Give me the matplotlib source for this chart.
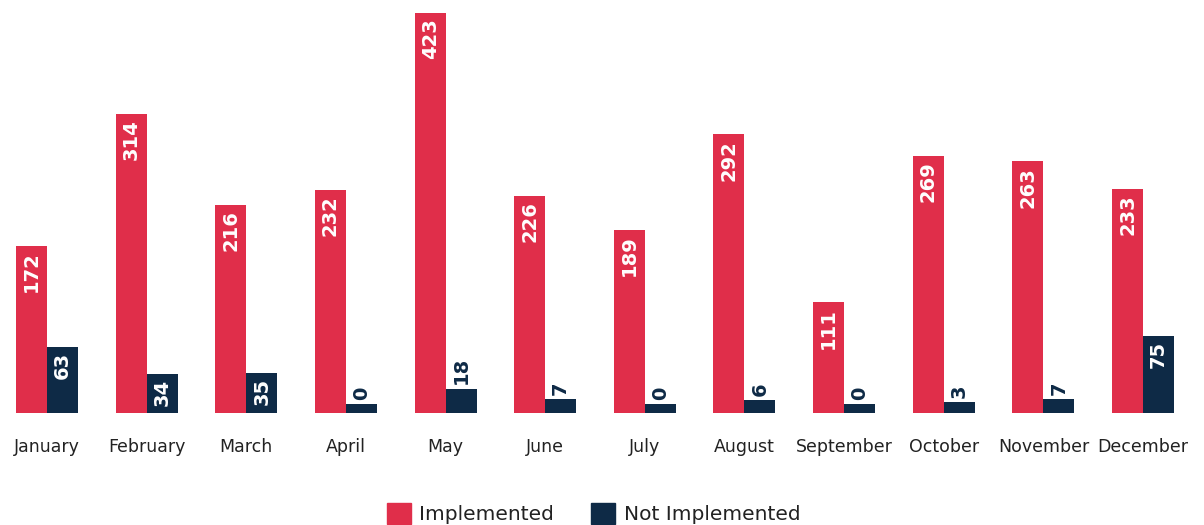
import numpy as np
import matplotlib.pyplot as plt
from matplotlib.patches import Patch

months = ["January", "February", "March", "April", "May", "June", "July",
          "August", "September", "October", "November", "December"]
implemented = [172, 314, 216, 232, 423, 226, 189, 292, 111, 269, 263, 233]
not_implemented = [63, 34, 35, 0, 18, 7, 0, 6, 0, 3, 7, 75]

RED = "#E02E4A"
NAVY = "#0E2A46"
PAD = 8          # extra drawn length on every bar, like the source chart
MIN_LEN = 9      # smallest drawn bar so zero values stay visible
INSIDE_MIN = 25  # below this the value label goes above the bar


def label_bars(ax, xs, values, heights):
    for x, v, h in zip(xs, values, heights):
        if v > INSIDE_MIN:
            ax.annotate(str(v), (x, h), xytext=(0, -4), textcoords="offset points",
                        rotation=90, ha="center", va="top", color="white",
                        fontsize=14, fontweight="bold")
        else:
            ax.annotate(str(v), (x, h), xytext=(0, 3), textcoords="offset points",
                        rotation=90, ha="center", va="bottom", color=NAVY,
                        fontsize=14, fontweight="bold")


fig = plt.figure(figsize=(12.04, 5.25), dpi=100)
ax = fig.add_axes([0, 0.214, 1, 0.786])

x = np.arange(len(months))
w = 0.311
h_impl = np.maximum(np.array(implemented) + PAD, MIN_LEN)
h_not = np.maximum(np.array(not_implemented) + PAD, MIN_LEN)
ax.bar(x - w / 2, h_impl, width=w, color=RED)
ax.bar(x + w / 2, h_not, width=w, color=NAVY)
label_bars(ax, x - w / 2, implemented, h_impl)
label_bars(ax, x + w / 2, not_implemented, h_not)

ax.set_xlim(-0.472, 11.612)
ax.set_ylim(0, 445)
ax.set_xticks(x)
ax.set_xticklabels(months, fontsize=12.5, color="#222222")
ax.tick_params(axis="x", length=0, pad=18)
ax.set_yticks([])
for s in ax.spines.values():
    s.set_visible(False)

handles = [Patch(color=RED, label="Implemented"),
           Patch(color=NAVY, label="Not Implemented")]
fig.legend(handles=handles, loc="lower center", bbox_to_anchor=(0.493, -0.033),
           ncol=2, frameon=False, fontsize=14.5, handlelength=1.2,
           handleheight=1.2, handletextpad=0.4, columnspacing=1.85,
           labelcolor="#222222")

fig.savefig("out.png", dpi=100)
